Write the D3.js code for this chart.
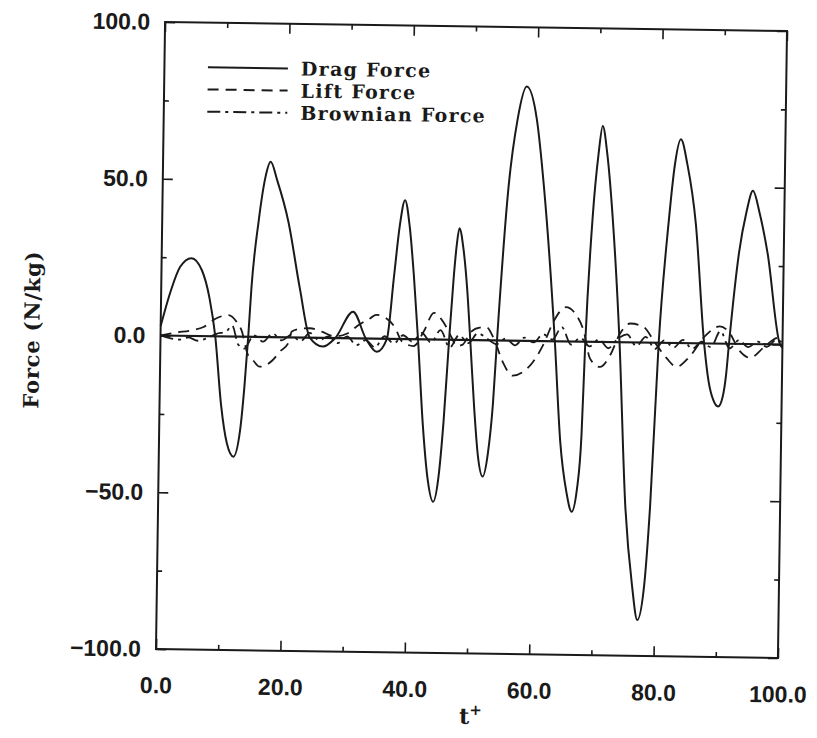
<!DOCTYPE html>
<meta charset="utf-8">
<style>
body { margin: 0; background: #fff; }
.axis .tick text { font: bold 23px "Liberation Sans", Arial, sans-serif; fill: #1a1a1a; }
.axis line { stroke: #1a1a1a; stroke-width: 1.6px; }
.axis path { display: none; }
.label { font-family: "DejaVu Serif", serif; font-weight: bold; fill: #1a1a1a; }
</style>
<svg width="817" height="738"></svg>
<script src="https://d3js.org/d3.v7.min.js"></script>
<script>

// values
var dragT = [0, 1.5, 3.0, 4.8, 6.5, 7.8, 8.8, 9.9, 10.9, 12.0, 13.0, 13.6, 14.1, 14.5, 15.5, 16.5, 17.3, 18.4, 20.3, 22.3, 24.0,
             26.1, 28.1, 30.9, 33.0, 34.8, 36.4, 37.4, 38.2, 39.0, 39.8, 40.6, 41.4, 42.4, 43.3, 44.2, 45.0, 45.7, 46.4,
             47.0, 47.4, 47.8, 48.5, 49.2, 49.8, 50.6, 51.3, 52.1, 52.9, 53.6, 54.1, 55.6, 56.9, 58.3, 60.0, 61.3, 63.4,
             64.5, 65.6, 66.5, 67.3, 67.9, 68.3, 69.2, 70.0, 70.6, 71.4, 72.4, 73.8, 75.1, 76.4, 77.3, 78.3, 79.1, 80.1,
             81.4, 82.3, 83.2, 84.3, 85.8, 87.4, 88.2, 89.0, 89.8, 90.5, 91.0, 91.4, 92.8, 93.9, 94.9, 96.0, 97.4, 99.6, 100];
var dragF = [3, 14, 22, 24.8, 21, 12, 0, -22, -34, -38.3, -30, -16, 0, 15.5, 36.8, 51, 55.9, 50, 36.8, 15.5, 0,
             -2.8, 0, 8.5, 0, -4.2, 0, 20, 36, 44.3, 36, 20, 0, -28, -45, -51.8, -44, -26, 0,
             20, 30, 35.6, 29, 16, 0, -22, -37, -43.5, -36, -20, 0, 49, 70.6, 81.1, 70.6, 49, 0,
             -32, -48, -54.3, -47, -30, 0, 40, 60, 68.9, 60, 40, 0, -52, -78, -88.5, -78, -52, 0,
             38, 57, 65.0, 57, 38, 0, -12, -18, -20.1, -17, -10, 0, 29, 42, 48.9, 42, 29, 0, -1];

var liftT = [0, 2.5, 5.0, 6.9, 8.8, 10.9, 12.2, 13.0, 14.1, 14.9, 16.0, 18.1, 19.2, 20.5, 21.1, 22.5, 24.0, 25.9, 28.0,
             30.0, 32.0, 33.7, 34.6, 35.6, 37.7, 38.8, 40.7, 42.3, 43.9, 45.5, 46.8, 47.6, 48.6, 49.8, 51.3, 52.4, 53.6,
             55.1, 56.7, 58.3, 59.9, 61.5, 63.2, 65.1, 66.8, 68.0, 69.1, 70.7, 72.3, 73.8, 75.5, 77.6, 79.5, 81.4, 83.0,
             85.1, 87.6, 89.9, 91.3, 93.2, 94.8, 96.9, 98.5, 100];
var liftF = [0, 1, 1.8, 2.9, 5.6, 6.8, 4.7, 2.1, -5.8, -7.4, -9.5, -7.3, -4.6, -2.0, 1.9, 2.8, 3.0, 2.0, 0.5,
             1.5, 4.5, 6.5, 7.6, 7.2, 3.5, -0.7, -2.2, 2.5, 8.5, 5.4, 0.7, -2.0, -1.5, 2.4, 4.0, 4.1, 0.5,
             -7.0, -11.2, -10, -6.8, -1.4, 6.5, 10.9, 8.4, 3.5, -5.4, -8.0, -4.3, 2.5, 6.0, 5.0, 0, -4.9, -7.6,
             -4.3, 2.5, 5.5, 3.9, -2.4, -4.4, -1.2, 1.5, 2.6];

var brownT = [0, 1.5, 3, 4.5, 6, 7.5, 9, 10.5, 11.5, 12.5, 13.5, 15, 16.5, 18, 19.5, 21, 22.5, 24, 25.5, 27, 28.5,
              30, 31.5, 33, 34.5, 36, 37.5, 39, 40.5, 42, 43.5, 45, 46.5, 48, 49.5, 51, 52.5, 54, 55.5, 57, 58.5,
              60, 61.5, 63, 64.5, 66, 67.5, 69, 70.5, 72, 73.5, 75, 76.5, 78, 79.5, 81, 82.5, 84, 85.5, 87, 88.5,
              90, 91.5, 93, 94.5, 96, 97.5, 99, 100];
var brownF = [0, -0.8, -1.2, -0.5, -1.5, -0.6, 0.8, 1.5, 3.5, -2.5, -3.8, 0.5, -1.5, 1.2, -1, 0.8, -1.2, 1.5, -0.8, 0.5, -1.6,
              0.6, -2.2, -0.5, -2.8, 0.8, -1.5, 1.2, -0.8, 2, -1, 3, -2.5, 1.5, -1, 2.2, 0.5, -1.2, 0.6, -1.5, 1,
              -0.5, 2.2, 0.5, 4.5, -1, 1.2, -1.5, 0.8, -2, 1, 2.5, -1.2, 1.8, -2, 0.8, -1.5, 1, -1.8, 0.5, -1.2,
              4, -1.5, 1.2, -1, 0.8, -0.8, 1.5, 0.5];

var xTicks = [0, 20, 40, 60, 80, 100], xMinor = [10, 30, 50, 70, 90];
var yTicks = [-100, -50, 0, 50, 100], yMinor = [-75, -25, 25, 75];
var legendNames = ["Drag Force", "Lift Force", "Brownian Force"];
var dashes = [null, "11,7", "13,5,3,5"];

var svg = d3.select("svg"),
    width = 622,
    height = 627;

// the scan is slightly tilted
var g = svg.append("g").attr("transform", "rotate(0.83,471.5,340)");
var plot = g.append("g").attr("transform", "translate(160.5,26.5)");

var x = d3.scaleLinear().domain([0, 100]).range([0, width]);
var y = d3.scaleLinear().domain([-100, 100]).range([height, 0]);
var fmt = d3.format(".1f");

plot.append("g").attr("class", "axis").attr("transform", "translate(0," + height + ")")
    .call(d3.axisBottom(x).tickValues(xTicks).tickSize(-10).tickPadding(28).tickFormat(fmt));
plot.append("g").attr("class", "axis").attr("transform", "translate(0," + height + ")")
    .call(d3.axisBottom(x).tickValues(xMinor).tickSize(-5).tickFormat(""));
plot.append("g").attr("class", "axis")
    .call(d3.axisTop(x).tickValues(xTicks).tickSize(-10).tickFormat(""));
plot.append("g").attr("class", "axis")
    .call(d3.axisTop(x).tickValues(xMinor).tickSize(-5).tickFormat(""));

plot.append("g").attr("class", "axis")
    .call(d3.axisLeft(y).tickValues(yTicks).tickSize(-10).tickPadding(15).tickFormat(function(d) { return d < 0 ? "\u2212" + fmt(-d) : fmt(d); }));
plot.append("g").attr("class", "axis")
    .call(d3.axisLeft(y).tickValues(yMinor).tickSize(-5).tickFormat(""));
plot.append("g").attr("class", "axis").attr("transform", "translate(" + width + ",0)")
    .call(d3.axisRight(y).tickValues(yTicks).tickSize(-10).tickFormat(""));
plot.append("g").attr("class", "axis").attr("transform", "translate(" + width + ",0)")
    .call(d3.axisRight(y).tickValues(yMinor).tickSize(-5).tickFormat(""));

plot.append("rect")
    .attr("width", width).attr("height", height)
    .attr("fill", "none").attr("stroke", "#1a1a1a").attr("stroke-width", 2);

plot.append("line")
    .attr("x1", x(0)).attr("x2", x(100)).attr("y1", y(0)).attr("y2", y(0))
    .attr("stroke", "#1a1a1a").attr("stroke-width", 2.2);

var line = d3.line()
    .x(function(d) { return x(d[0]); })
    .y(function(d) { return y(d[1]); })
    .curve(d3.curveMonotoneX);

var series = [d3.zip(dragT, dragF), d3.zip(liftT, liftF), d3.zip(brownT, brownF)];

series.forEach(function(s, i) {
  plot.append("path")
      .attr("d", line(s))
      .attr("fill", "none")
      .attr("stroke", "#1a1a1a")
      .attr("stroke-width", i == 0 ? 2 : 1.8)
      .attr("stroke-dasharray", dashes[i]);
});

// legend
var leg = plot.append("g").attr("transform", "translate(43.5,44.6)");
legendNames.forEach(function(name, i) {
  leg.append("line")
      .attr("x1", 0).attr("x2", 80).attr("y1", i * 22.2).attr("y2", i * 22.2)
      .attr("stroke", "#1a1a1a").attr("stroke-width", 2)
      .attr("stroke-dasharray", dashes[i]);
  leg.append("text").attr("class", "label")
      .attr("x", 93).attr("y", i * 22.2).attr("dy", "0.36em")
      .style("font-size", "19px")
      .style("letter-spacing", "1.3px")
      .text(name);
});

// axis titles
g.append("text").attr("class", "label")
    .attr("transform", "translate(32,336) rotate(-90)")
    .attr("text-anchor", "middle").attr("dy", "0.35em")
    .style("font-size", "21px")
    .style("letter-spacing", "0.8px")
    .text("Force (N/kg)");

var tl = g.append("text").attr("class", "label")
    .attr("x", 476).attr("y", 724)
    .attr("text-anchor", "middle")
    .style("font-size", "22px");
tl.append("tspan").text("t");
tl.append("tspan").attr("dy", "-9").style("font-size", "15px").text("+");

</script>
